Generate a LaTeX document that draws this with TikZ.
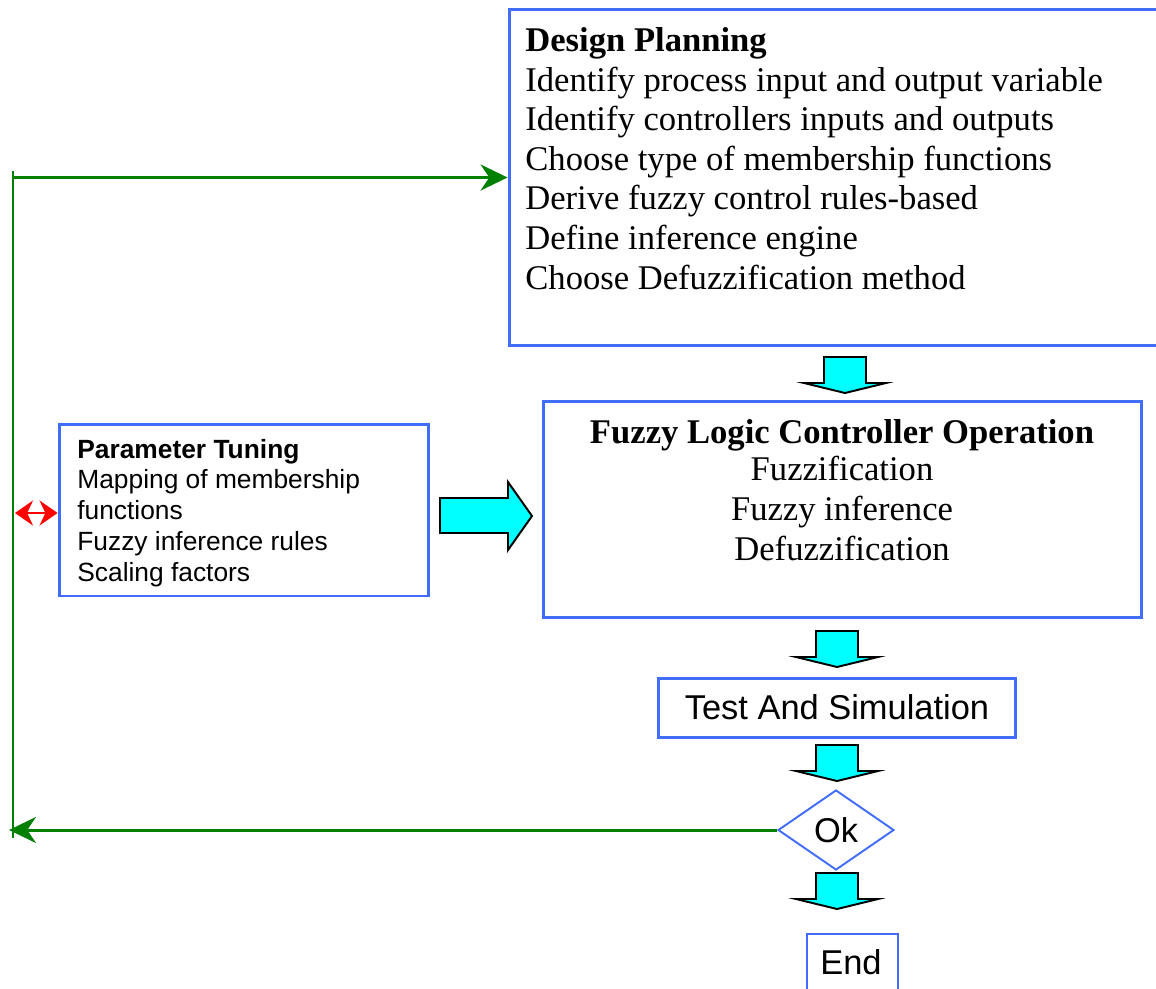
\documentclass[tikz,border=0pt]{standalone}
\usepackage{fontspec}
\setmainfont{Liberation Serif}
\setsansfont{Liberation Sans}
\usetikzlibrary{shapes.geometric,arrows.meta}
\definecolor{boxblue}{RGB}{66,108,250}
\definecolor{loopgreen}{RGB}{0,128,0}
\definecolor{blockcyan}{RGB}{0,255,255}
\begin{document}
\begin{tikzpicture}[x=0.02cm,y=-0.02cm,
  box/.style={draw=boxblue,line width=1.7pt,rectangle,inner sep=0pt},
  thinbox/.style={draw=boxblue,line width=1.1pt,inner sep=0pt},
  serifbig/.style={font=\fontsize{19.7}{22.5}\selectfont,inner sep=0pt},
  sansmid/.style={font=\sffamily\fontsize{15}{17.5}\selectfont,inner sep=0pt},
  sansbig/.style={font=\sffamily\fontsize{19.6}{22}\selectfont},
  loop/.style={draw=loopgreen,line width=1.7pt},
  looparrow/.style={loop,-{Stealth[length=0.54cm,width=0.52cm]}},
  tuning/.style={draw=red,line width=1.2pt,{Stealth[length=0.36cm,width=0.5cm]}-{Stealth[length=0.36cm,width=0.5cm]}},
  blockarrow/.style={draw=black,line width=1.1pt,fill=blockcyan,line join=miter},
  downblock/.pic={\path[blockarrow] (-21,0) -- (21,0) -- (21,26) -- (41,26) -- (0,36) -- (-41,26) -- (-21,26) -- cycle;}
]
\useasboundingbox (0,0) rectangle (1156,988);
\clip (0,0) rectangle (1156,988);

% boxes
\node[box,minimum width=13.22cm,minimum height=6.74cm] (dp) at (839.5,177.5) {};
\node[box,minimum width=7.40cm,minimum height=3.44cm] (pt) at (244,510) {};
\node[box,minimum width=11.98cm,minimum height=4.34cm] (flc) at (842.5,509.5) {};
\node[box,sansbig,minimum width=7.16cm,minimum height=1.18cm] (test) at (837,707.5) {Test And Simulation};
\node[thinbox,diamond,sansbig,minimum width=2.32cm,minimum height=1.6cm,aspect=1.45] (ok) at (836,830) {Ok};
\node[thinbox,minimum width=1.82cm,minimum height=1.4cm] (endbox) at (852.5,969) {};
\node[sansbig,inner sep=0pt] (endtxt) at (851,962) {End};

% box texts (anchored at the baseline of the last line)
\node[serifbig,anchor=base west,align=left] (dptxt) at (525,289)
  {\textbf{Design Planning}\\
   Identify process input and output variable\\
   Identify controllers inputs and outputs\\
   Choose type of membership functions\\
   Derive fuzzy control rules-based\\
   Define inference engine\\
   Choose Defuzzification method};
\node[sansmid,anchor=base west,align=left] (pttxt) at (77,581)
  {\textbf{Parameter Tuning}\\
   Mapping of membership\\
   functions\\
   Fuzzy inference rules\\
   Scaling factors};
\node[serifbig,anchor=base,align=center] (flctxt) at (842,560)
  {\textbf{Fuzzy Logic Controller Operation}\\[-0.05cm]
   Fuzzification\\
   Fuzzy inference\\
   Defuzzification};

% block arrows
\path[blockarrow] (440,498) -- (508,498) -- (508,482) -- (532,516) -- (508,550) -- (508,533) -- (440,533) -- cycle;
\pic at (845,357) {downblock};
\pic at (837,631) {downblock};
\pic at (837,745) {downblock};
\pic at (837,873) {downblock};

% feedback loop
\coordinate (looptop) at (13,171);
\coordinate (loopbot) at (13,838);
\coordinate (loopin) at (13,177.5);
\coordinate (loopout) at (9,830);
\coordinate (tunel) at (15,513);
\draw[loop] (looptop) -- (loopbot);
\draw[looparrow] (loopin) -- (dp.west);
\draw[looparrow] (ok.west) -- (loopout);
\draw[tuning] (tunel) -- (tunel -| pt.west);
\end{tikzpicture}
\end{document}
